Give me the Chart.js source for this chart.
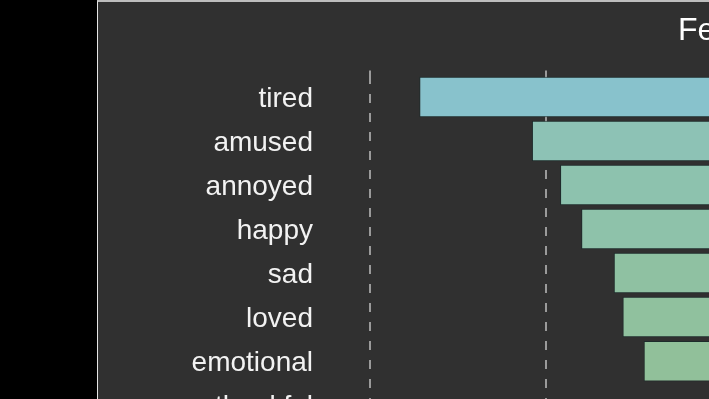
<!DOCTYPE html>
<html>
<head>
<meta charset="utf-8">
<script src="https://cdn.jsdelivr.net/npm/chart.js@4.4.1/dist/chart.umd.min.js"></script>
<style>
  html, body { margin: 0; padding: 0; background: #000; overflow: hidden; width: 709px; height: 399px; }
  #panel {
    position: absolute; left: 97px; top: 0;
    border-left: 1px solid #e6e6e6; border-top: 2px solid #bdbdbd;
    background: #303030; width: 1281px; height: 442px;
  }
  #panel canvas { display: block; }
</style>
</head>
<body>
<div id="panel"><canvas id="funnel" width="1281" height="442"></canvas></div>
<script>
// feelings, most frequent first
const feelings = ["tired", "amused", "annoyed", "happy", "sad", "loved", "emotional", "thankful"];
const counts = [34.4, 21.6, 18.4, 16, 12.3, 11.3, 8.9, 1];
const barColors = ["#88c2cc", "#8dc2b5", "#8dc2ae", "#8ec2aa", "#8fc1a2", "#90c19e", "#91c09a", "#92c097"];
const gridTicks = [-20, -10, 0, 10, 20];

document.addEventListener("DOMContentLoaded", () => {
    const ctx = document.getElementById("funnel");

    // each bar is centred on zero, so it floats from -v/2 to v/2
    const spans = counts.map(v => [-v / 2, v / 2]);

    new Chart(ctx, {
        type: "bar",
        data: {
            labels: feelings,
            datasets: [{
                data: spans,
                backgroundColor: barColors,
                borderColor: "#1d2b2b",
                borderWidth: 1,
                borderSkipped: false,
                barPercentage: 0.92,
                categoryPercentage: 1
            }]
        },
        options: {
            indexAxis: "y",
            responsive: false,
            animation: false,
            layout: { padding: 0 },
            plugins: {
                legend: { display: false },
                tooltip: { enabled: false },
                title: {
                    display: true,
                    text: "Feelings",
                    color: "#ffffff",
                    font: { family: "'Liberation Sans', Arial, sans-serif", size: 32, weight: "normal" },
                    padding: { top: 10, bottom: 20 }
                }
            },
            scales: {
                x: {
                    type: "linear",
                    position: "top",
                    min: gridTicks[0],
                    max: gridTicks[gridTicks.length - 1],
                    afterBuildTicks: (scale) => { scale.ticks = gridTicks.map(v => ({ value: v })); },
                    ticks: { display: false },
                    border: { display: false },
                    grid: {
                        color: "#9a9a9a",
                        lineWidth: 2,
                        drawTicks: true,
                        tickLength: 4.5,
                        tickBorderDash: [9, 10]
                    }
                },
                y: {
                    afterFit: (scale) => { scale.width = 272; },
                    border: { display: false },
                    grid: { display: false, drawTicks: true, tickLength: 57 },
                    ticks: {
                        color: "#f2f2f2",
                        padding: 0,
                        labelOffset: 2,
                        font: { family: "'Liberation Sans', Arial, sans-serif", size: 28 }
                    }
                },
                // empty right-hand gutter, keeps the title centred on the whole canvas
                y2: {
                    type: "category",
                    position: "right",
                    afterFit: (scale) => { scale.width = 305; },
                    ticks: { display: false },
                    grid: { display: false, drawTicks: false },
                    border: { display: false }
                }
            }
        },
        plugins: [{
            id: "dashedGrid",
            beforeDraw: (chart) => {
                chart.options.scales.x.border.dash = [9, 10];
            }
        }]
    });
});
</script>
</body>
</html>
